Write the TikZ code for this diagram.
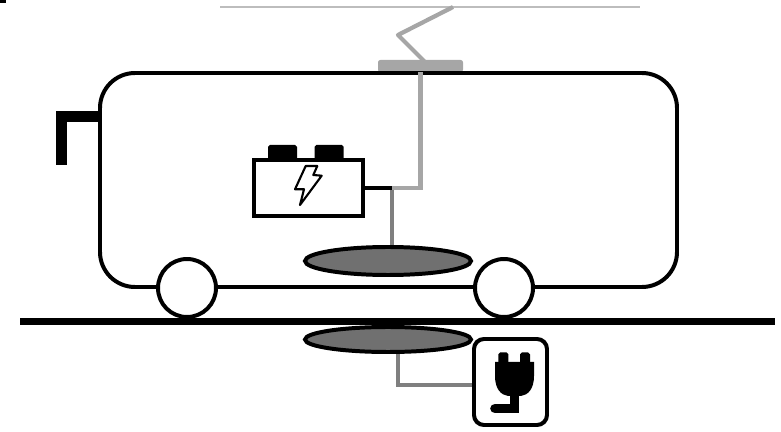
\documentclass[tikz,border=0pt]{standalone}
\usepackage{tikz}
\usetikzlibrary{shapes.geometric, positioning}
\definecolor{wirelight}{HTML}{A6A6A6}
\definecolor{wiredark}{HTML}{7F7F7F}
\definecolor{coilgray}{HTML}{707070}
\definecolor{linegray}{HTML}{BDBDBD}

\begin{document}
\begin{tikzpicture}[x=0.03cm, y=-0.03cm,
  outline/.style={draw=black, line width=3.4pt},
  coil/.style={ellipse, outline, fill=coilgray, minimum width=4.98cm, minimum height=0.84cm, inner sep=0pt},
  wire/.style={line width=3.6pt},
  terminal/.style={fill=black, rounded corners=1.5pt, minimum width=0.87cm, minimum height=0.45cm, inner sep=0pt}]
\useasboundingbox (0,0) rectangle (781,432);
\fill (0,0) rectangle (6,3);
% overhead line and pantograph
\draw[linegray, line width=1.7pt] (220,7.5)--(640,7.5);
\draw[wirelight, line width=3.6pt, line join=round] (425,62)--(398,35)--(453,7);
\node[fill=wirelight, rounded corners=2pt, minimum width=2.55cm, minimum height=0.36cm, inner sep=0pt] (panto) at (420.5,66) {};
% bus
\draw[outline, rounded corners=1.05cm] (100,73) rectangle (677,287);
\draw[line width=10.2pt] (61.5,165)--(61.5,116.5)--(98,116.5);
\draw[outline, fill=white] (187,288) circle (29);
\draw[outline, fill=white] (504,288) circle (29);
% battery
\node[outline, fill=white, minimum width=3.27cm, minimum height=1.68cm, inner sep=0pt] (battery) at (308.5,188) {};
\node[terminal] (termA) at (282.5,152.5) {};
\node[terminal] (termB) at (329,152.5) {};
\draw[line width=1.8pt, line join=round] (305.7,166)--(317.3,166)--(313.3,175)--(321.7,175.7)--(300,205)--(304,189.3)--(295,189.3)--cycle;
% pick-up coils
\node[coil] (coilA) at (388,261) {};
\node[coil, minimum height=0.75cm] (coilB) at (388,339.5) {};
\draw[line width=6pt] (20,321.5)--(775,321.5);
% wiring
\coordinate (tap) at (392,188);
\draw[wire, wiredark] (tap)--(tap |- coilA.north);
\draw[wire, black] (battery.east)--(tap);
\draw[wire, wirelight] (tap) -| (panto.south);
% charger
\node[outline, fill=white, rounded corners=0.3cm, minimum width=2.19cm, minimum height=2.58cm, inner sep=0pt] (plug) at (510.5,382) {};
\draw[wire, wiredark] ([xshift=0.3cm]coilB.south) |- ([yshift=-0.09cm]plug.west);
\fill[rounded corners=1.5pt] (498.3,352.5) rectangle (508.3,366);
\fill[rounded corners=1.5pt] (520,352.5) rectangle (530,366);
\fill (495,362)--(534,362)--(534,376) .. controls (534,389) and (528,395) .. (521,396)--(508,396) .. controls (501,395) and (495,389) .. (495,376)--cycle;
\draw[line width=8.2pt, line cap=round] (514.5,390)--(514.5,408.5)--(495,408.5);
\end{tikzpicture}
\end{document}
